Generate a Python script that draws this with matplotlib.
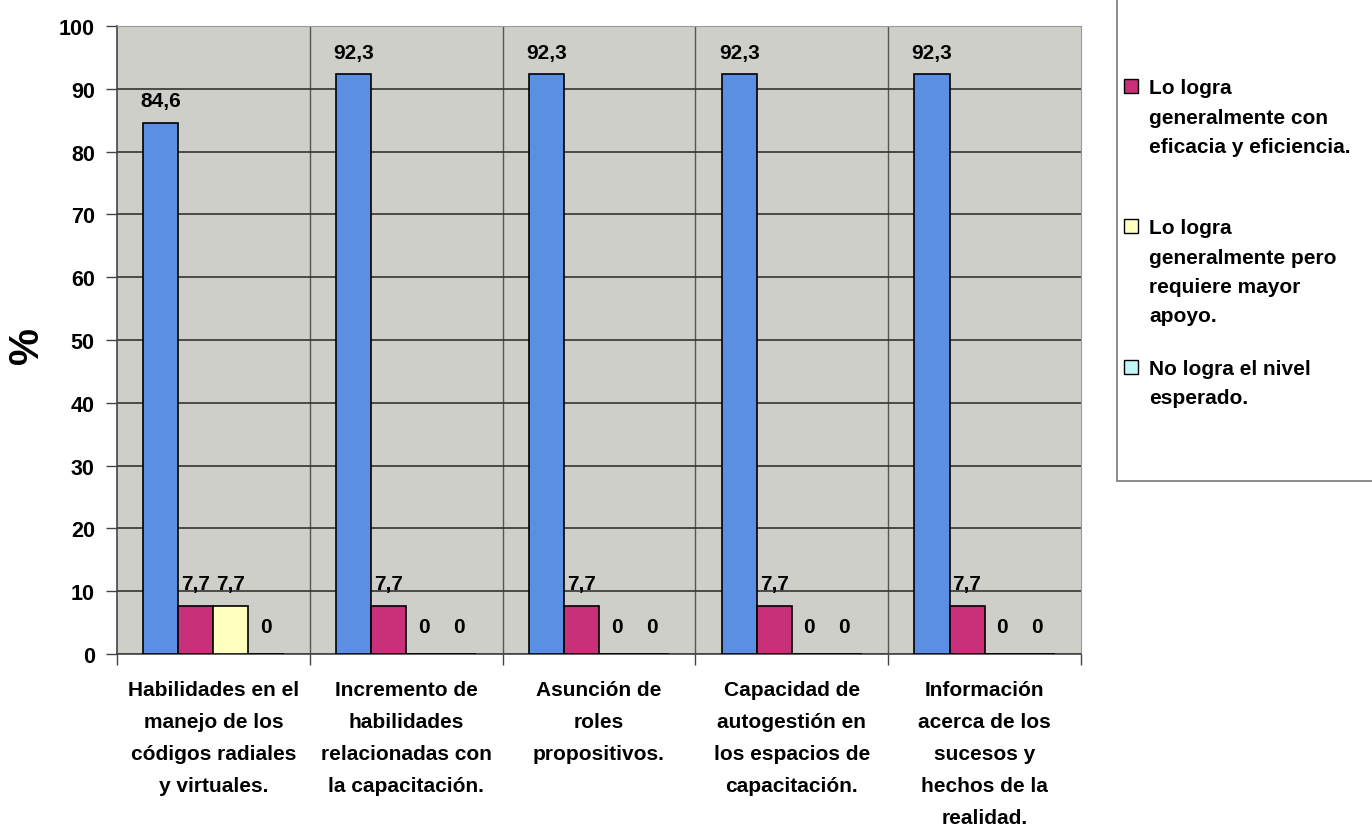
import matplotlib.pyplot as plt
from matplotlib.patches import Rectangle
import numpy as np

plt.rcParams['font.family'] = ['Liberation Sans', 'DejaVu Sans']
plt.rcParams['font.weight'] = 'bold'

categorias = [
    "Habilidades en el\nmanejo de los\ncódigos radiales\ny virtuales.",
    "Incremento de\nhabilidades\nrelacionadas con\nla capacitación.",
    "Asunción de\nroles\npropositivos.",
    "Capacidad de\nautogestión en\nlos espacios de\ncapacitación.",
    "Información\nacerca de los\nsucesos y\nhechos de la\nrealidad.",
]

serie_azul = [84.6, 92.3, 92.3, 92.3, 92.3]
serie_eficacia = [7.7, 7.7, 7.7, 7.7, 7.7]
serie_apoyo = [7.7, 0, 0, 0, 0]
serie_no_logra = [0, 0, 0, 0, 0]

nombres = [
    "",
    "Lo logra\ngeneralmente con\neficacia y eficiencia.",
    "Lo logra\ngeneralmente pero\nrequiere mayor\napoyo.",
    "No logra el nivel\nesperado.",
]
colores = ["#5b8fe3", "#c8307a", "#ffffc0", "#c0f8f8"]

series = [serie_azul, serie_eficacia, serie_apoyo, serie_no_logra]

fig = plt.figure(figsize=(13.72, 8.28), dpi=100)
ax = fig.add_axes([117 / 1372, 1 - 655 / 828, (1081 - 117) / 1372, (655 - 27) / 828])
ax.set_facecolor("#cfcfc9")

x = np.arange(len(categorias))
ancho = 0.182
for i, (vals, col) in enumerate(zip(series, colores)):
    pos = x + (i - 1.5) * ancho
    ax.bar(pos, vals, ancho, color=col, edgecolor="black", linewidth=1.2, zorder=3)
    for p, v in zip(pos, vals):
        txt = f"{v:g}".replace(".", ",")
        off = 13 if v == 0 else 9
        ax.annotate(txt, (p, v), xytext=(0, off), textcoords="offset points",
                    ha="center", va="bottom", fontsize=15, fontweight="bold", zorder=4)

ax.set_xlim(-0.5, len(categorias) - 0.5)
ax.set_ylim(0, 100)
ax.set_yticks(range(0, 101, 10))
ax.yaxis.grid(True, color="#333333", linewidth=1.2, zorder=1)
for b in np.arange(0.5, len(categorias) - 0.5, 1):
    ax.axvline(b, color="#555555", linewidth=1, zorder=1)

ax.set_xticks(np.arange(-0.5, len(categorias), 1), minor=False)
ax.set_xticklabels([])
ax.set_xticks(x, minor=True)
ax.set_xticklabels(categorias, minor=True, fontsize=15, fontweight="bold", linespacing=1.86)
ax.tick_params(axis="x", which="minor", length=0, pad=19)
ax.tick_params(axis="x", which="major", length=8, width=1, color="#444444")
ax.tick_params(axis="y", length=8, width=1, labelsize=15.5, color="#444444", pad=8)

for s in ["top", "right"]:
    ax.spines[s].set_color("#999999")
for s in ["left", "bottom"]:
    ax.spines[s].set_color("#444444")
    ax.spines[s].set_linewidth(1.2)

fig.text(27 / 1372, 1 - 345 / 828, "%", rotation=90, fontsize=30, fontweight="bold",
         ha="center", va="center")

# leyenda
fig.patches.append(Rectangle((1117 / 1372, 1 - 482 / 828), 0.2, 0.7, transform=fig.transFigure,
                             facecolor="white", edgecolor="#777777", linewidth=1.2))
filas = [87, 227, 368]
for nombre, col, y in zip(nombres[1:], colores[1:], filas):
    fig.patches.append(Rectangle((1124 / 1372, 1 - (y + 7) / 828), 14 / 1372, 14 / 828,
                                 transform=fig.transFigure, facecolor=col,
                                 edgecolor="black", linewidth=1))
    fig.text(1149 / 1372, 1 - (y - 8) / 828, nombre, fontsize=15, fontweight="bold",
             ha="left", va="top", linespacing=1.7)

fig.savefig("out.png", dpi=100)
